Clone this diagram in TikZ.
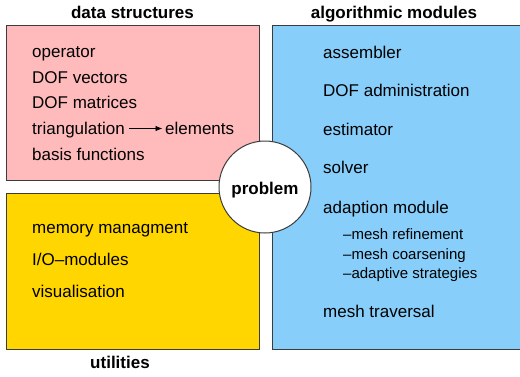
\documentclass[tikz,border=0pt]{standalone}
\usepackage{fontspec}
\setmainfont{Liberation Sans}
\usetikzlibrary{arrows.meta}
\definecolor{pinkbox}{RGB}{255,187,187}
\definecolor{bluebox}{RGB}{135,206,250}
\definecolor{yellowbox}{RGB}{255,214,0}
\definecolor{edgegray}{RGB}{60,60,60}
\begin{document}
\begin{tikzpicture}[x=1pt,y=-1pt,
  area/.style={draw=edgegray,line width=1pt},
  item/.style={anchor=base west,inner sep=0pt,font=\fontsize{17}{20}\selectfont},
  subitem/.style={anchor=base west,inner sep=0pt,font=\fontsize{15}{18}\selectfont},
  title/.style={anchor=base,inner sep=0pt,font=\fontsize{17}{20}\selectfont\bfseries}]
\useasboundingbox (0,0) rectangle (520,376);
% boxes
\fill[pinkbox] (6,25) rectangle (259,180);
\draw[area] (6,25) rectangle (259,180);
\fill[yellowbox] (6,193) rectangle (259,349);
\draw[area] (6,193) rectangle (259,349);
\fill[bluebox] (272,25) rectangle (522,349);
\draw[area] (522,25) -- (272,25) -- (272,349) -- (522,349);
% circle
\node[circle,draw=edgegray,fill=white,line width=1pt,minimum size=92pt,inner sep=0pt] (problem) at (265,187) {};
\node[anchor=base,inner sep=0pt,font=\fontsize{17}{20}\selectfont\bfseries] (ptext) at (265,194) {problem};
% titles
\node[title] (t1) at (132.5,18) {data structures};
\node[title] (t2) at (394,18) {algorithmic modules};
\node[title] (t3) at (120,368) {utilities};
% pink items
\node[item] (op) at (32,57) {operator};
\node[item] (dv) at (32,83) {DOF vectors};
\node[item] (dm) at (32,108) {DOF matrices};
\node[item] (tri) at (32,134) {triangulation};
\node[item] (el) at (165,134) {elements};
\node[item] (bf) at (32,160) {basis functions};
\draw[-{Latex[length=7pt,width=5.5pt]},line width=0.9pt] ([xshift=4pt,yshift=5.5pt]tri.base east) -- ([xshift=-2.5pt,yshift=5.5pt]el.base west);
% yellow items
\node[item] (mm) at (32,233) {memory managment};
\node[item] (io) at (32,265) {I/O–modules};
\node[item] (vis) at (32,297) {visualisation};
% blue items
\node[item] (as) at (323,58) {assembler};
\node[item] (da) at (323,96) {DOF administration};
\node[item] (es) at (323,135) {estimator};
\node[item] (so) at (323,173) {solver};
\node[item] (ad) at (323,213) {adaption module};
\node[subitem] (s1) at (343,239) {–mesh refinement};
\node[subitem] (s2) at (343,259) {–mesh coarsening};
\node[subitem] (s3) at (343,278) {–adaptive strategies};
\node[item] (mt) at (323,317) {mesh traversal};
\end{tikzpicture}
\end{document}
